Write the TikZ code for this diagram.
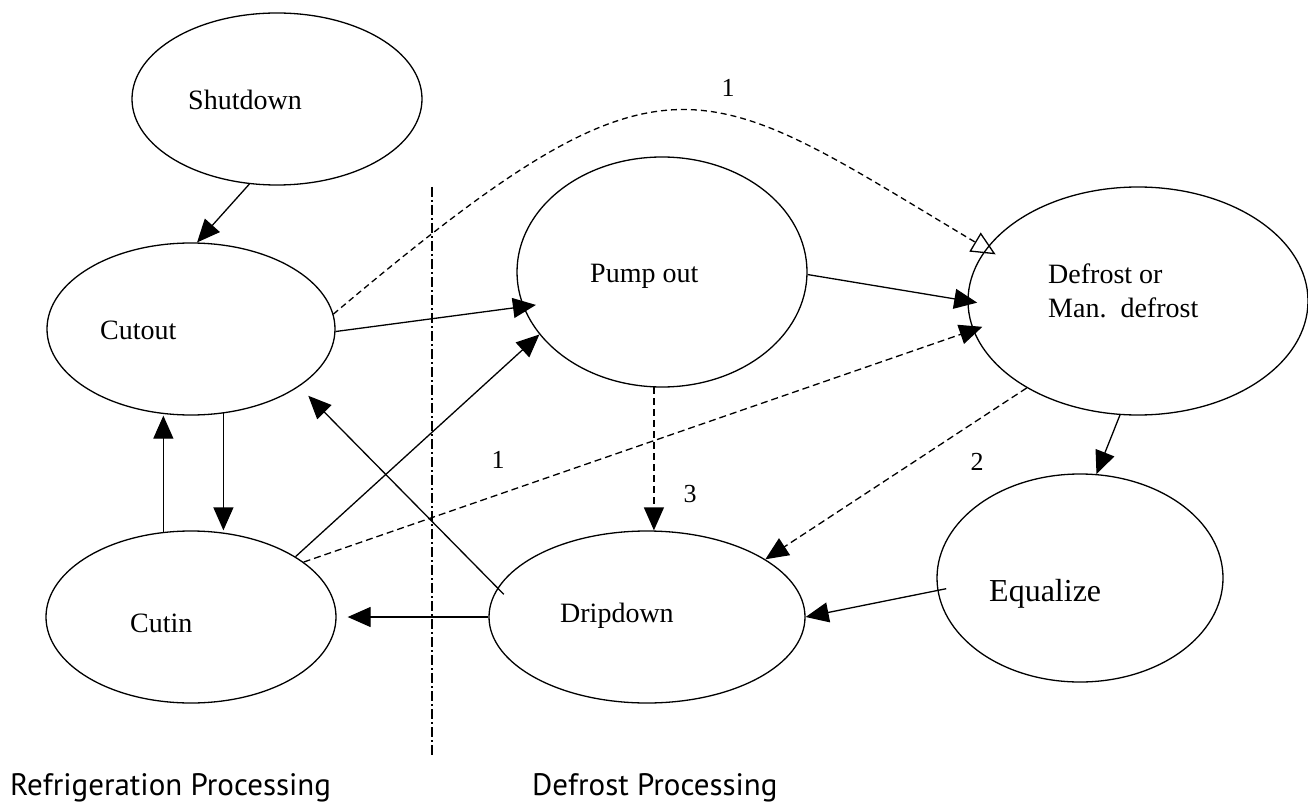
\documentclass[tikz,border=0pt]{standalone}
\usepackage{fontspec}
\setmainfont{Liberation Serif}
\newfontfamily\capfont{PT Sans}
\usetikzlibrary{arrows.meta,shapes.geometric}

\tikzset{
  state/.style={draw, ellipse, line width=1.3pt, inner sep=0pt},
  txt/.style={anchor=base west, inner sep=0pt, font=\fontsize{28}{34}\selectfont},
  num/.style={anchor=base, inner sep=0pt, font=\fontsize{26}{30}\selectfont},
  flow/.style={-{Triangle[length=23pt,width=20pt]}, line width=1.3pt},
  alt/.style={flow, dash pattern=on 7pt off 4pt},
  part/.style={anchor=base west, inner sep=0pt, font=\capfont\fontsize{31}{36}\selectfont},
}

\begin{document}
\begin{tikzpicture}[x=1pt, y=-1pt]
    \useasboundingbox (0,0) rectangle (1308,802);

    % States
    \node[state, minimum width=290pt, minimum height=172pt] (shutdown) at (277,99) {};
    \node[state, minimum width=288pt, minimum height=172pt] (cutout) at (191,329) {};
    \node[state, minimum width=290pt, minimum height=172pt] (cutin) at (191,617) {};
    \node[state, minimum width=290pt, minimum height=230pt] (pumpout) at (662,272) {};
    \node[state, minimum width=340pt, minimum height=228pt] (defrost) at (1138,301) {};
    \node[state, minimum width=316pt, minimum height=172pt] (dripdown) at (647,617) {};
    \node[state, minimum width=286pt, minimum height=208pt] (equalize) at (1080,578) {};

    \node[txt] (shutdowntxt) at (188,110) {Shutdown};
    \node[txt] (cutouttxt) at (100,339) {Cutout};
    \node[txt] (cutintxt) at (130,632) {Cutin};
    \node[txt] (pumpouttxt) at (590,282) {Pump out};
    \node[txt] (defrosttxt) at (1048,283) {Defrost or};
    \node[txt] (mantxt) at (1048,317) {Man.\ \ defrost};
    \node[txt] (dripdowntxt) at (560,622) {Dripdown};
    \node[txt, font=\fontsize{32}{38}\selectfont] (equalizetxt) at (989,601) {Equalize};

    % Divider between the two processings
    \coordinate (divtop) at (432,187);
    \coordinate (divbot) at (432,755);
    \draw[line width=1.3pt, dash pattern=on 10pt off 3pt on 2pt off 3pt] (divtop) -- (divbot);
    \node[part] (refrig) at (10,795) {Refrigeration Processing};
    \node[part] (defproc) at (532,795) {Defrost Processing};

    % Transitions
    \draw[flow] (shutdown.252) -- (cutout.86);
    \draw[flow, shorten >=-13pt] (cutout.-1) -- (pumpout.194);
    \draw[flow] (cutin.30) -- (pumpout.207);
    \draw[flow, shorten <=-9pt, shorten >=13pt] (dripdown.169) -- (cutout.332);
    \draw[flow] (cutout.291) -- (cutout.291 |- cutin.north);
    \draw[flow] (cutin.108) -- (cutin.108 |- cutout.south);
    \draw[flow, shorten >=11pt] (dripdown.west) -- (cutin.east);
    \draw[flow, shorten >=-10pt] (pumpout.359) -- (defrost.180);
    \draw[flow] (defrost.261) -- (equalize.81);
    \draw[flow, shorten <=-9pt] (equalize.185) -- (dripdown.east);

    % Dashed transitions with their labels
    \draw[alt, shorten >=-10pt] (cutin.26) -- (defrost.190);
    \draw[alt] (pumpout.266) -- (pumpout.266 |- dripdown.north);
    \draw[alt] (defrost.218) -- (dripdown.26);
    \draw[line width=1.3pt, dash pattern=on 6pt off 4pt, -{Triangle[open,length=24pt,width=22pt]}, shorten >=-11pt]
        (cutout.6) .. controls (669,31) and (697,76) .. (defrost.161);
    \node[num] (lbltop) at (728,97) {1};
    \node[num] (lblmid) at (498,468) {1};
    \node[num] (lblthree) at (690,502) {3};
    \node[num] (lbltwo) at (977,470) {2};
\end{tikzpicture}
\end{document}
